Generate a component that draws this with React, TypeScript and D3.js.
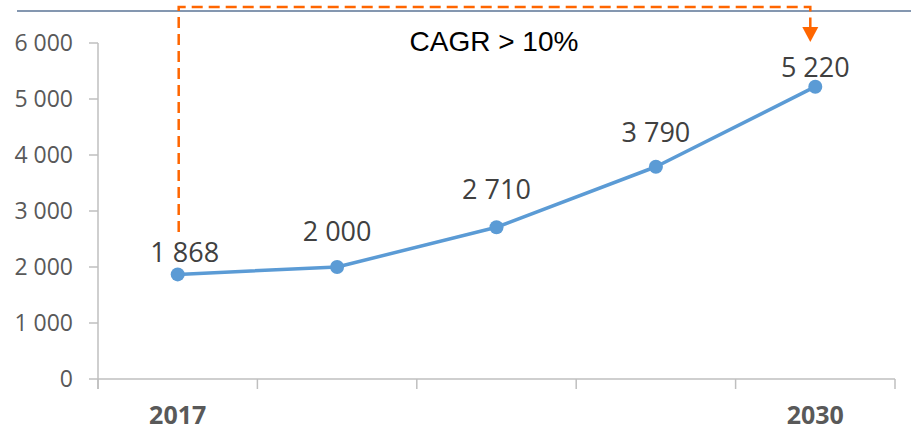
import * as d3 from "d3";

const years = ["2017", "", "", "", "2030"];
const volumes = [1868, 2000, 2710, 3790, 5220];
const yTicks = [0, 1000, 2000, 3000, 4000, 5000, 6000];
const annotation = "CAGR > 10%";

// how far each data label sits above its marker (manually nudged in the original)
const labelLift = [12, 26, 28, 25, 10];

const width = 911;
const height = 431;
const plot = { left: 98, right: 895, top: 43, bottom: 379 };

const fmt = (v: number) => d3.format(",")(v).replace(/,/g, " ");

export default function App() {
  const x = d3
    .scaleBand<number>()
    .domain(d3.range(volumes.length))
    .range([plot.left, plot.right])
    .padding(0);
  const bw = x.bandwidth();
  const cx = (i: number) => (x(i) ?? 0) + bw / 2;

  const y = d3.scaleLinear().domain([0, 6000]).range([plot.bottom, plot.top]);

  const line = d3
    .line<number>()
    .x((_, i) => cx(i))
    .y((v) => y(v));

  const boundaries = [...d3.range(volumes.length).map((i) => x(i) ?? 0), plot.right];

  const startX = cx(0) + 1;
  const endX = cx(volumes.length - 1) - 5;
  const arrowTip = 42;

  return (
    <svg
      width={width}
      height={height}
      viewBox={`0 0 ${width} ${height}`}
      style={{ position: "absolute", left: 0, top: 0, background: "#fff" }}
    >
      <rect width={width} height={height} fill="#ffffff" />
      <line x1={17} x2={width} y1={11} y2={11} stroke="#8497b0" strokeWidth={2} />

      {/* y axis */}
      <line x1={plot.left} x2={plot.left} y1={plot.top} y2={plot.bottom + 10} stroke="#bfbfbf" strokeWidth={1.5} />
      {yTicks.map((t) => (
        <g key={t}>
          <line x1={plot.left - 9} x2={plot.left} y1={y(t)} y2={y(t)} stroke="#bfbfbf" strokeWidth={1.5} />
          <text
            x={73}
            y={y(t)}
            dy="0.35em"
            textAnchor="end"
            fontFamily="'Open Sans', sans-serif"
            fontSize={23}
            fill="#595959"
          >
            {fmt(t)}
          </text>
        </g>
      ))}

      {/* x axis */}
      <line x1={plot.left} x2={plot.right} y1={plot.bottom} y2={plot.bottom} stroke="#bfbfbf" strokeWidth={1.5} />
      {boundaries.map((b, i) => (
        <line key={i} x1={b} x2={b} y1={plot.bottom} y2={plot.bottom + 10} stroke="#bfbfbf" strokeWidth={1.5} />
      ))}
      {years.map((yr, i) => (
        <text
          key={i}
          x={cx(i)}
          y={424}
          textAnchor="middle"
          fontFamily="'Open Sans', sans-serif"
          fontWeight={700}
          fontSize={25}
          fill="#595959"
        >
          {yr}
        </text>
      ))}

      {/* CAGR annotation */}
      <path
        d={`M${startX},232 V7 H${endX} V${arrowTip - 14}`}
        fill="none"
        stroke="#ff6600"
        strokeWidth={2.5}
        strokeDasharray="11,6"
      />
      <path
        d={`M${endX - 8},${arrowTip - 15} L${endX + 8},${arrowTip - 15} L${endX},${arrowTip} Z`}
        fill="#ff6600"
      />
      <text x={494} y={51} textAnchor="middle" fontFamily="'Liberation Sans', Arial, sans-serif" fontSize={28} fill="#000">
        {annotation}
      </text>

      {/* series */}
      <path d={line(volumes) ?? ""} fill="none" stroke="#5b9bd5" strokeWidth={3.5} strokeLinejoin="round" />
      {volumes.map((v, i) => (
        <circle key={i} cx={cx(i)} cy={y(v)} r={7} fill="#5b9bd5" />
      ))}
      {volumes.map((v, i) => (
        <text
          key={i}
          x={cx(i) + (i === 0 ? 7 : 0)}
          y={y(v) - labelLift[i]}
          textAnchor="middle"
          fontFamily="'Open Sans', sans-serif"
          fontSize={27}
          fill="#404040"
        >
          {fmt(v)}
        </text>
      ))}
    </svg>
  );
}
